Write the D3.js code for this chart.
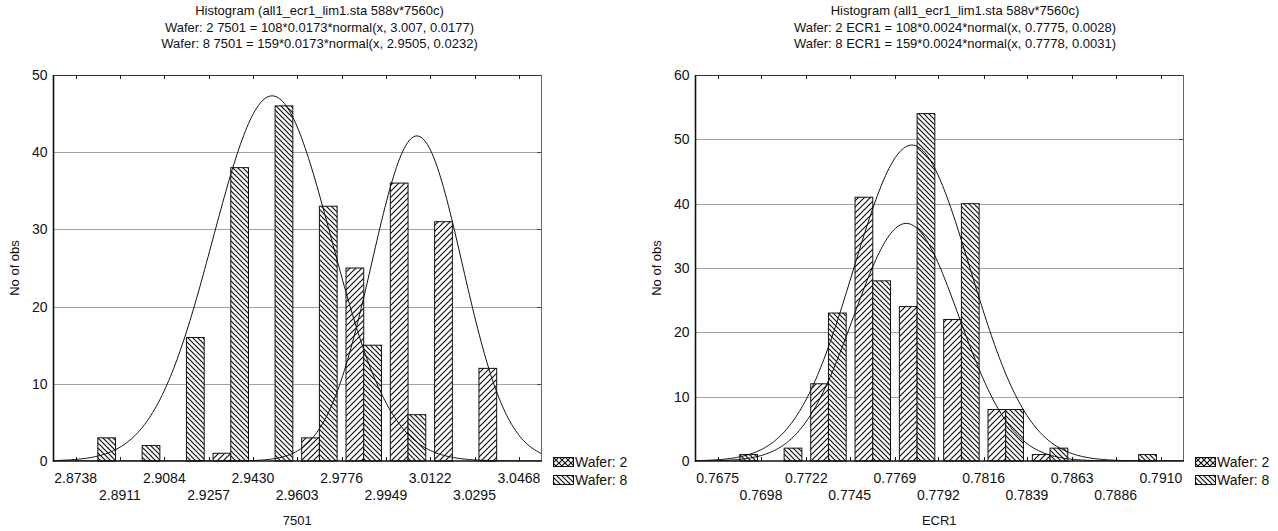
<!DOCTYPE html>
<html lang="en">
<head>
	<meta charset="utf-8">
	<title>Histogram 7501 / ECR1</title>
	<script type="text/javascript" src="https://d3js.org/d3.v7.min.js"></script>
<style>
	body {
		margin: 0;
		background: white;
		font-family: "Liberation Sans", Arial, sans-serif;
	}
	text { fill: #111; }
	.title { font-size: 13px; }
	.tick-label { font-size: 14px; }
	.axis-title { font-size: 13px; }
	.legend-text { font-size: 14px; }
	.grid { stroke: #444; stroke-width: 1; stroke-dasharray: 1,1; }
	.bar { stroke: #111; stroke-width: 1; }
	.fit { fill: none; stroke: #111; stroke-width: 1; }
</style>
</head>
<body>
<svg id="chart" width="1278" height="531"></svg>

<script type="text/javascript">

// left panel: variable 7501
var leftTitle = ["Histogram (all1_ecr1_lim1.sta 588v*7560c)",
	"Wafer: 2 7501 = 108*0.0173*normal(x, 3.007, 0.0177)",
	"Wafer: 8 7501 = 159*0.0173*normal(x, 2.9505, 0.0232)"]
var leftEdges = ["2.8738","2.8911","2.9084","2.9257","2.9430","2.9603","2.9776","2.9949","3.0122","3.0295","3.0468"]
var leftWafer2 = [0,0,0,1,0,3,25,36,31,12]
var leftWafer8 = [3,2,16,38,46,33,15,6,0,0]
var leftFit2 = [108, 0.0173, 3.007, 0.0177]   //n, bin width, mean, sd
var leftFit8 = [159, 0.0173, 2.9505, 0.0232]
var leftYTicks = [0,10,20,30,40,50]

// right panel: variable ECR1
var rightTitle = ["Histogram (all1_ecr1_lim1.sta 588v*7560c)",
	"Wafer: 2 ECR1 = 108*0.0024*normal(x, 0.7775, 0.0028)",
	"Wafer: 8 ECR1 = 159*0.0024*normal(x, 0.7778, 0.0031)"]
var rightEdges = ["0.7675","0.7698","0.7722","0.7745","0.7769","0.7792","0.7816","0.7839","0.7863","0.7886","0.7910"]
var rightWafer2 = [0,0,12,41,24,22,8,1,0,0]
var rightWafer8 = [1,2,23,28,54,40,8,2,0,1]
var rightFit2 = [108, 0.0024, 0.7775, 0.0028]
var rightFit8 = [159, 0.0024, 0.7778, 0.0031]
var rightYTicks = [0,10,20,30,40,50,60]

var legendNames = ["Wafer: 2","Wafer: 8"]

var svg = d3.select("#chart")

//hatch patterns: wafer 2 = "////", wafer 8 = "\\\\", legend swatch of wafer 2 is crossed
var defs = svg.append("defs")
function hatch(id, size, dir, cross) {
	var p = defs.append("pattern").attr("id", id)
		.attr("patternUnits","userSpaceOnUse")
		.attr("width", size).attr("height", size)
	p.append("rect").attr("width", size).attr("height", size).attr("fill","white")
	var lines = cross ? [1,-1] : [dir]
	lines.forEach(function(d) {
		if (d > 0) {
			p.append("path").attr("d","M0,"+size+" L"+size+",0 M-1,1 L1,-1 M"+(size-1)+","+(size+1)+" L"+(size+1)+","+(size-1))
		} else {
			p.append("path").attr("d","M0,0 L"+size+","+size+" M-1,"+(size-1)+" L1,"+(size+1)+" M"+(size-1)+",-1 L"+(size+1)+",1")
		}
	})
	p.selectAll("path").attr("stroke","#111").attr("stroke-width",1.2)
}
hatch("h2", 6, 1, false)
hatch("h8", 5, -1, false)
hatch("h2x", 6, 1, true)

var normal = function(x, fit) {
	var z = (x - fit[2]) / fit[3]
	return fit[0] * fit[1] * Math.exp(-0.5*z*z) / (fit[3] * Math.sqrt(2*Math.PI))
}

function drawPanel(cfg) {
	var g = svg.append("g")
	var edges = cfg.edges.map(Number)
	var bw = (edges[edges.length-1] - edges[0]) / (edges.length-1)
	var x = d3.scaleLinear()
		.domain([edges[0]-bw/2, edges[edges.length-1]+bw/2])
		.range([cfg.left, cfg.right])
	var y = d3.scaleLinear().domain([0, cfg.ymax]).range([cfg.bottom, cfg.top])

	//titles
	g.selectAll(".title").data(cfg.title).enter().append("text")
		.attr("class","title")
		.attr("x", cfg.titleX)
		.attr("y", function(d,i) { return 15 + i*16.5 })
		.attr("text-anchor","middle")
		.text(function(d) { return d })

	//dotted grid
	g.selectAll(".grid").data(cfg.yTicks.slice(1, -1)).enter().append("line")
		.attr("class","grid")
		.attr("x1", cfg.left).attr("x2", cfg.right)
		.attr("y1", function(d) { return Math.round(y(d))+0.5 })
		.attr("y2", function(d) { return Math.round(y(d))+0.5 })

	//bars, two per bin: wafer 2 on the left half, wafer 8 on the right half
	var x0 = function(i) { return x(edges[0] + i*bw) }
	var binPx = x(edges[0]+bw) - x(edges[0])
	var series = [[cfg.w2, 0.1, "url(#h2)"], [cfg.w8, 0.5, "url(#h8)"]]
	series.forEach(function(s) {
		var data = s[0].map(function(v,i) { return {v: v, i: i} }).filter(function(d) { return d.v > 0 })
		g.append("g").selectAll("rect").data(data).enter().append("rect")
			.attr("class","bar")
			.attr("x", function(d) { return x0(d.i) + s[1]*binPx })
			.attr("width", 0.4*binPx)
			.attr("y", function(d) { return y(d.v) })
			.attr("height", function(d) { return cfg.bottom - y(d.v) })
			.attr("fill", s[2])
	})

	//fitted normal curves
	var clipId = "clip" + Math.round(cfg.left)
	defs.append("clipPath").attr("id", clipId).append("rect")
		.attr("x", cfg.left).attr("y", cfg.top)
		.attr("width", cfg.right-cfg.left).attr("height", cfg.bottom-cfg.top)
	var dom = x.domain()
	var xs = d3.range(0, 301).map(function(k) { return dom[0] + k*(dom[1]-dom[0])/300 })
	;[cfg.fit2, cfg.fit8].forEach(function(fit) {
		g.append("path").attr("class","fit")
			.attr("clip-path","url(#"+clipId+")")
			.attr("d", d3.line()
				.x(function(d) { return x(d) })
				.y(function(d) { return y(normal(d, fit)) })(xs))
	})

	//frame
	g.append("line").attr("x1",cfg.left).attr("x2",cfg.right).attr("y1",cfg.top+0.5).attr("y2",cfg.top+0.5)
		.attr("stroke","#333")
	g.append("line").attr("x1",cfg.right+0.5).attr("x2",cfg.right+0.5).attr("y1",cfg.top).attr("y2",cfg.bottom)
		.attr("stroke","#666")
	g.append("line").attr("x1",cfg.left).attr("x2",cfg.left).attr("y1",cfg.top).attr("y2",cfg.bottom+1)
		.attr("stroke","#111").attr("stroke-width",1.6)
	g.append("line").attr("x1",cfg.left).attr("x2",cfg.right+1).attr("y1",cfg.bottom).attr("y2",cfg.bottom)
		.attr("stroke","#111").attr("stroke-width",1.6)

	//ticks on bottom and top edges at the bin edges, on the right edge at grid lines
	g.selectAll(".xt").data(edges).enter().append("path")
		.attr("d", function(d) {
			var px = Math.round(x(d))+0.5
			return "M"+px+","+cfg.bottom+" v-4 M"+px+","+cfg.top+" v4"
		})
		.attr("stroke","#111")
	g.selectAll(".yt").data(cfg.yTicks.slice(1, -1)).enter().append("path")
		.attr("d", function(d) { return "M"+cfg.right+","+(Math.round(y(d))+0.5)+" h-4" })
		.attr("stroke","#444")

	//tick labels, bin edges on two alternating rows
	g.selectAll(".xl").data(cfg.edges).enter().append("text")
		.attr("class","tick-label")
		.attr("x", function(d) { return x(+d) })
		.attr("y", function(d,i) { return cfg.bottom + (i % 2 ? 39 : 22) })
		.attr("text-anchor","middle")
		.text(function(d) { return d })
	g.selectAll(".yl").data(cfg.yTicks).enter().append("text")
		.attr("class","tick-label")
		.attr("x", cfg.left - 6)
		.attr("y", function(d) { return y(d) + 5 })
		.attr("text-anchor","end")
		.text(function(d) { return d })

	//axis titles
	g.append("text").attr("class","axis-title")
		.attr("x", (cfg.left+cfg.right)/2).attr("y", 525)
		.attr("text-anchor","middle").text(cfg.xName)
	g.append("text").attr("class","axis-title")
		.attr("transform","translate("+(cfg.left-35)+","+((cfg.top+cfg.bottom)/2)+") rotate(-90)")
		.attr("text-anchor","middle").text("No of obs")

	//legend
	var lg = g.append("g").attr("transform","translate("+(cfg.right+12)+","+457+")")
	legendNames.forEach(function(name, i) {
		lg.append("rect").attr("x",0.5).attr("y", i*18+0.5).attr("width",20).attr("height",9)
			.attr("fill", i == 0 ? "url(#h2x)" : "url(#h8)").attr("stroke","#111")
		lg.append("text").attr("class","legend-text")
			.attr("x", 22).attr("y", i*18+10).text(name)
	})
}

drawPanel({
	title: leftTitle, titleX: 319.5,
	edges: leftEdges, w2: leftWafer2, w8: leftWafer8,
	fit2: leftFit2, fit8: leftFit8,
	yTicks: leftYTicks, ymax: 50,
	left: 53.5, right: 541, top: 75, bottom: 461,
	xName: "7501"
})
drawPanel({
	title: rightTitle, titleX: 955,
	edges: rightEdges, w2: rightWafer2, w8: rightWafer8,
	fit2: rightFit2, fit8: rightFit8,
	yTicks: rightYTicks, ymax: 60,
	left: 695.5, right: 1183, top: 75, bottom: 461,
	xName: "ECR1"
})

</script>
</body>
</html>
